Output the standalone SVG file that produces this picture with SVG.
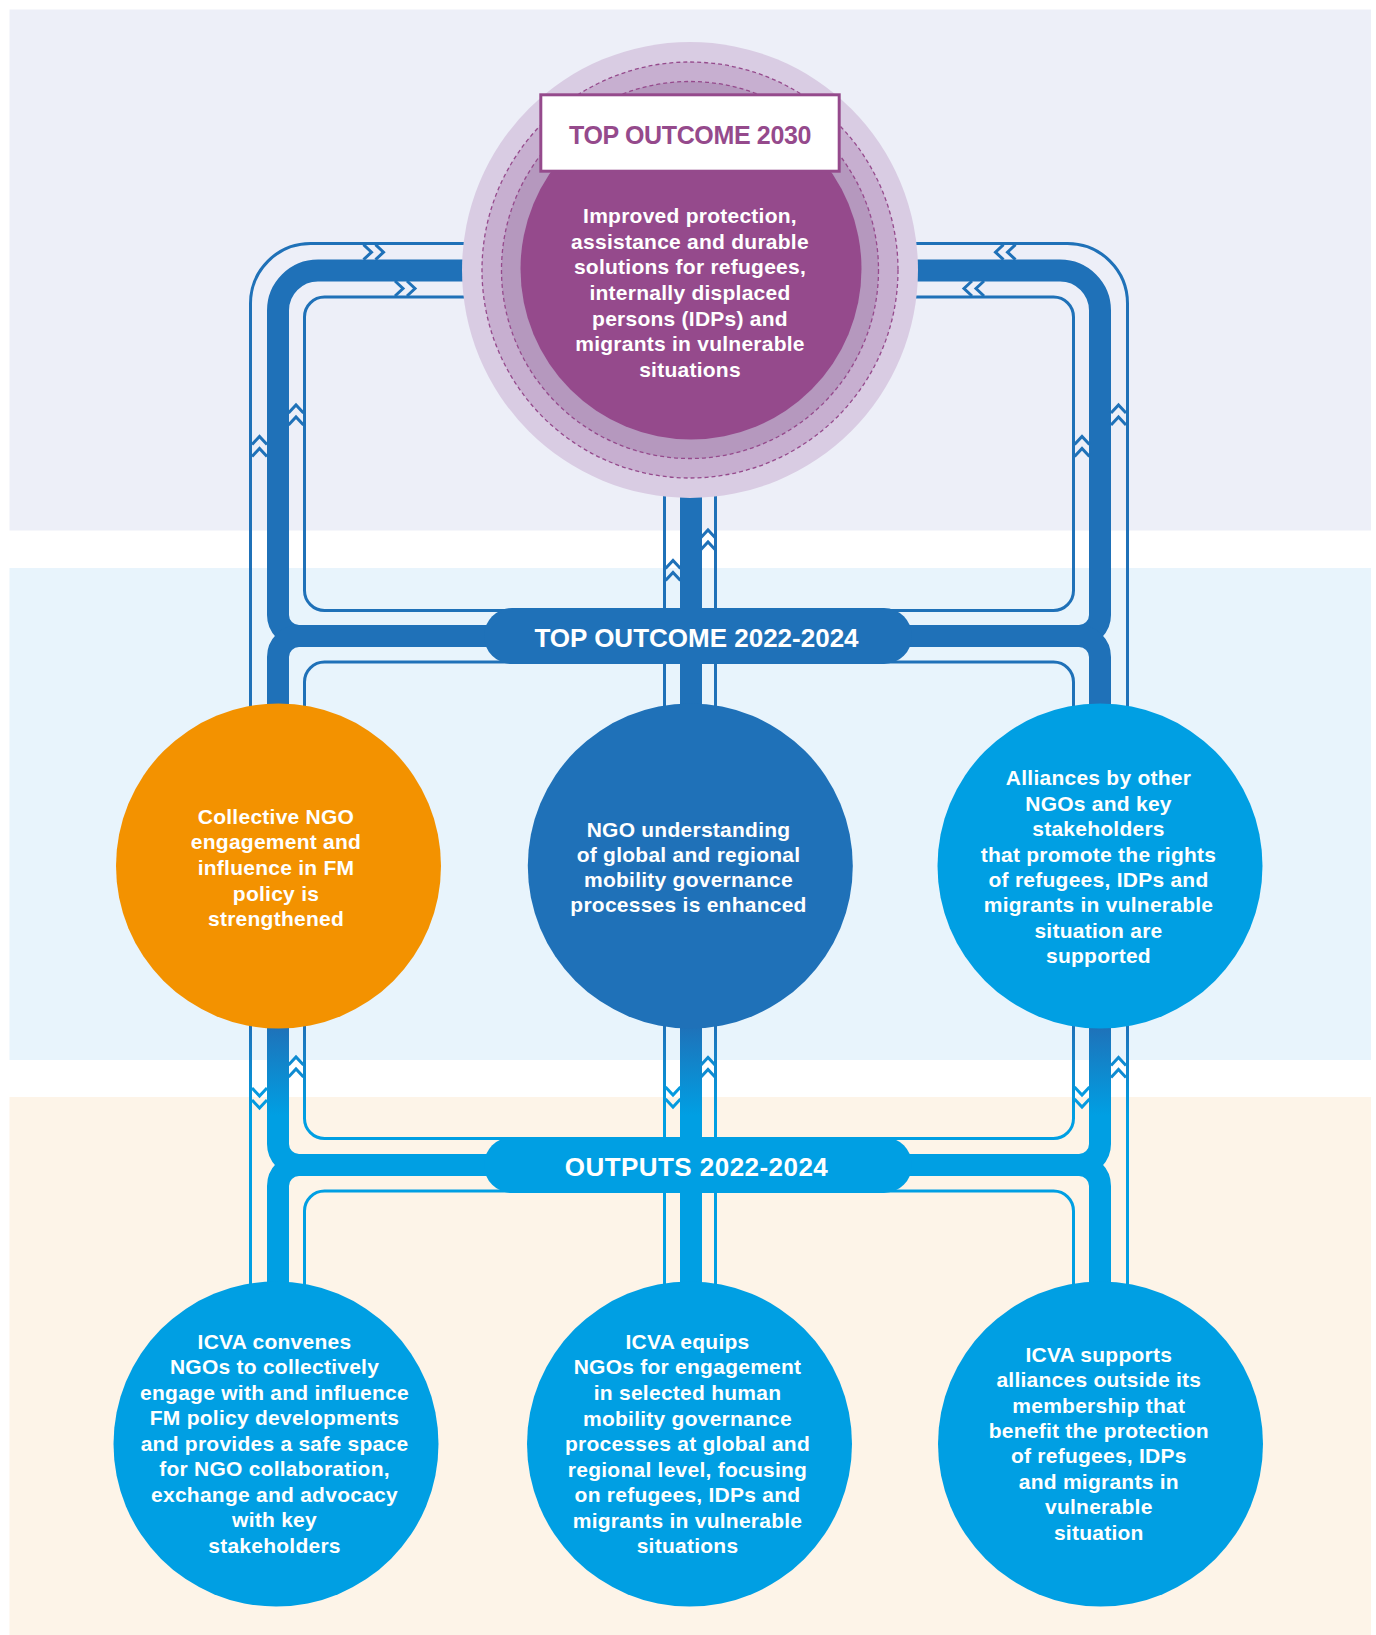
<svg xmlns="http://www.w3.org/2000/svg" xmlns:xlink="http://www.w3.org/1999/xlink" width="1376" height="1635" viewBox="0 0 1376 1635">
<style>
.thin{fill:none;stroke-width:3}
.thick{fill:none;stroke-width:22}
.dk{stroke:#1F71B8}
.lo{stroke:url(#gLow)}
.t{font-family:'Liberation Sans',Arial,sans-serif;font-weight:700;fill:#fff;text-anchor:middle;font-size:21px;letter-spacing:0.25px}
.h{font-size:26px;letter-spacing:0}
.dash{fill:none;stroke:#954A8C;stroke-width:1.3;stroke-dasharray:4 3}
</style>
<defs>
<linearGradient id="gLow" gradientUnits="userSpaceOnUse" x1="0" y1="1025" x2="0" y2="1115">
<stop offset="0" stop-color="#1F71B8"/>
<stop offset="1" stop-color="#009FE3"/>
</linearGradient>
<path id="chv" d="M-7.5 -2 L0 -10 L7.5 -2 M-7.5 10 L0 2 L7.5 10" fill="none" stroke-width="3"/>
</defs>

<g id="background">
<rect x="0" y="0" width="1376" height="1635" fill="#fff"/>
<rect x="9.5" y="9.5" width="1361.5" height="521" fill="#EDEFF8"/>
<rect x="9.5" y="568" width="1361.5" height="492" fill="#E8F4FC"/>
<rect x="9.5" y="1097" width="1361.5" height="538" fill="#FDF4E8"/>
</g>

<g id="connectors">
<path class="thin dk" d="M470 243.5 H310.5 A60 60 0 0 0 250.5 303.5 V900"/>
<path class="thin lo" d="M250.5 900 V1300"/>
<path class="thick dk" d="M470 270.5 H318 A40 40 0 0 0 278 310.5 V615 A21 21 0 0 0 299 636 H520"/>
<path class="thick dk" d="M520 636 H299 A21 21 0 0 0 278 657 V760"/>
<path class="thin dk" d="M470 297 H324.5 A20 20 0 0 0 304.5 317 V590.5 A20 20 0 0 0 324.5 610.5 H520"/>
<path class="thin dk" d="M520 662 H324.5 A20 20 0 0 0 304.5 682 V760"/>
<path class="thick lo" d="M278 990 V1144 A21 21 0 0 0 299 1165 H520"/>
<path class="thick lo" d="M520 1165 H299 A21 21 0 0 0 278 1186 V1300"/>
<path class="thin lo" d="M304.5 990 V1118.5 A20 20 0 0 0 324.5 1138.5 H520"/>
<path class="thin lo" d="M520 1191 H324.5 A20 20 0 0 0 304.5 1211 V1300"/>
<path class="thin dk" d="M910 243.5 H1067.5 A60 60 0 0 1 1127.5 303.5 V900"/>
<path class="thin lo" d="M1127.5 900 V1300"/>
<path class="thick dk" d="M910 270.5 H1060 A40 40 0 0 1 1100 310.5 V615 A21 21 0 0 1 1079 636 H870"/>
<path class="thick dk" d="M870 636 H1079 A21 21 0 0 1 1100 657 V760"/>
<path class="thin dk" d="M910 297 H1053.5 A20 20 0 0 1 1073.5 317 V590.5 A20 20 0 0 1 1053.5 610.5 H870"/>
<path class="thin dk" d="M870 662 H1053.5 A20 20 0 0 1 1073.5 682 V760"/>
<path class="thick lo" d="M1100 990 V1144 A21 21 0 0 1 1079 1165 H870"/>
<path class="thick lo" d="M870 1165 H1079 A21 21 0 0 1 1100 1186 V1300"/>
<path class="thin lo" d="M1073.5 990 V1118.5 A20 20 0 0 1 1053.5 1138.5 H870"/>
<path class="thin lo" d="M870 1191 H1053.5 A20 20 0 0 1 1073.5 1211 V1300"/>
<path class="thin dk" d="M664.5 470 V900 M715.5 470 V900"/>
<path class="thick dk" d="M691 470 V900"/>
<path class="thin lo" d="M664.5 900 V1300 M715.5 900 V1300"/>
<path class="thick lo" d="M691 900 V1300"/>
<g stroke="#1F71B8">
<use xlink:href="#chv" transform="translate(373.5 252.2) rotate(90)"/>
<use xlink:href="#chv" transform="translate(405 288.5) rotate(90)"/>
<use xlink:href="#chv" transform="translate(1005.5 252.2) rotate(-90)"/>
<use xlink:href="#chv" transform="translate(974 288.5) rotate(-90)"/>
<use xlink:href="#chv" transform="translate(259.5 446.5)"/>
<use xlink:href="#chv" transform="translate(296 415)"/>
<use xlink:href="#chv" transform="translate(1082 446.5)"/>
<use xlink:href="#chv" transform="translate(1118.5 415)"/>
<use xlink:href="#chv" transform="translate(673 570.5)"/>
<use xlink:href="#chv" transform="translate(708 540)"/>
</g>
<g stroke="#0E8BD1">
<use xlink:href="#chv" transform="translate(296 1067)"/>
<use xlink:href="#chv" transform="translate(708 1067.5)"/>
<use xlink:href="#chv" transform="translate(1118.5 1067.5)"/>
</g>
<g stroke="#059ADF">
<use xlink:href="#chv" transform="translate(259.5 1098) rotate(180)"/>
<use xlink:href="#chv" transform="translate(673 1097) rotate(180)"/>
<use xlink:href="#chv" transform="translate(1082 1097) rotate(180)"/>
</g>
</g>

<g id="top-outcome-2022">
<rect x="484" y="608" width="428" height="56" rx="28" fill="#1F71B8"/>
<text class="t h" x="696.5" y="647">TOP OUTCOME 2022-2024</text>
</g>

<g id="outputs-2022">
<rect x="484" y="1137" width="428" height="56" rx="28" fill="#009FE3"/>
<text class="t h" x="696.5" y="1176" style="letter-spacing:0.45px">OUTPUTS 2022-2024</text>
</g>

<g id="top-outcome-2030">
<circle cx="690" cy="270" r="228" fill="#D9CCE3"/>
<circle cx="690" cy="270" r="208" fill="#C7AFD0"/>
<circle cx="690" cy="270" r="188.5" fill="#B598BE"/>
<circle cx="690" cy="270" r="208" class="dash"/>
<circle cx="690" cy="270" r="188.5" class="dash"/>
<circle cx="691" cy="269" r="170.5" fill="#954A8C"/>
<rect x="540.8" y="94.8" width="298.4" height="76.4" fill="#fff" stroke="#954A8C" stroke-width="3"/>
<text class="t" x="690" y="144" style="font-size:25px;letter-spacing:-0.35px;fill:#954A8C">TOP OUTCOME 2030</text>
<text class="t" x="690" y="223.3">Improved protection,</text>
<text class="t" x="690" y="249">assistance and durable</text>
<text class="t" x="690" y="274.3">solutions for refugees,</text>
<text class="t" x="690" y="300">internally displaced</text>
<text class="t" x="690" y="325.7">persons (IDPs) and</text>
<text class="t" x="690" y="351">migrants in vulnerable</text>
<text class="t" x="690" y="376.7">situations</text>
</g>

<g id="outcome-collective">
<circle cx="278.5" cy="866" r="162.5" fill="#F39200"/>
<text class="t" x="276" y="824">Collective NGO</text>
<text class="t" x="276" y="849">engagement and</text>
<text class="t" x="276" y="875">influence in FM</text>
<text class="t" x="276" y="900.5">policy is</text>
<text class="t" x="276" y="926">strengthened</text>
</g>

<g id="outcome-understanding">
<circle cx="690.3" cy="866" r="162.5" fill="#1F71B8"/>
<text class="t" x="688.5" y="836.7">NGO understanding</text>
<text class="t" x="688.5" y="862">of global and regional</text>
<text class="t" x="688.5" y="887">mobility governance</text>
<text class="t" x="688.5" y="912">processes is enhanced</text>
</g>

<g id="outcome-alliances">
<circle cx="1100" cy="866" r="162.5" fill="#009FE3"/>
<text class="t" x="1098.5" y="785">Alliances by other</text>
<text class="t" x="1098.5" y="810.7">NGOs and key</text>
<text class="t" x="1098.5" y="836">stakeholders</text>
<text class="t" x="1098.5" y="861.7">that promote the rights</text>
<text class="t" x="1098.5" y="886.7">of refugees, IDPs and</text>
<text class="t" x="1098.5" y="912">migrants in vulnerable</text>
<text class="t" x="1098.5" y="937.7">situation are</text>
<text class="t" x="1098.5" y="963">supported</text>
</g>

<g id="output-convenes">
<circle cx="276" cy="1444" r="162.5" fill="#009FE3"/>
<text class="t" x="274.5" y="1349">ICVA convenes</text>
<text class="t" x="274.5" y="1374.3">NGOs to collectively</text>
<text class="t" x="274.5" y="1400">engage with and influence</text>
<text class="t" x="274.5" y="1425">FM policy developments</text>
<text class="t" x="274.5" y="1450.7">and provides a safe space</text>
<text class="t" x="274.5" y="1476">for NGO collaboration,</text>
<text class="t" x="274.5" y="1501.7">exchange and advocacy</text>
<text class="t" x="274.5" y="1527">with key</text>
<text class="t" x="274.5" y="1552.7">stakeholders</text>
</g>

<g id="output-equips">
<circle cx="689.5" cy="1444" r="162.5" fill="#009FE3"/>
<text class="t" x="687.5" y="1349">ICVA equips</text>
<text class="t" x="687.5" y="1374.3">NGOs for engagement</text>
<text class="t" x="687.5" y="1400">in selected human</text>
<text class="t" x="687.5" y="1425.7">mobility governance</text>
<text class="t" x="687.5" y="1451">processes at global and</text>
<text class="t" x="687.5" y="1476.7">regional level, focusing</text>
<text class="t" x="687.5" y="1502">on refugees, IDPs and</text>
<text class="t" x="687.5" y="1527.7">migrants in vulnerable</text>
<text class="t" x="687.5" y="1553.3">situations</text>
</g>

<g id="output-supports">
<circle cx="1100.5" cy="1444" r="162.5" fill="#009FE3"/>
<text class="t" x="1098.8" y="1361.7">ICVA supports</text>
<text class="t" x="1098.8" y="1387.3">alliances outside its</text>
<text class="t" x="1098.8" y="1412.7">membership that</text>
<text class="t" x="1098.8" y="1437.7">benefit the protection</text>
<text class="t" x="1098.8" y="1463.3">of refugees, IDPs</text>
<text class="t" x="1098.8" y="1489">and migrants in</text>
<text class="t" x="1098.8" y="1514.3">vulnerable</text>
<text class="t" x="1098.8" y="1540">situation</text>
</g>
</svg>
